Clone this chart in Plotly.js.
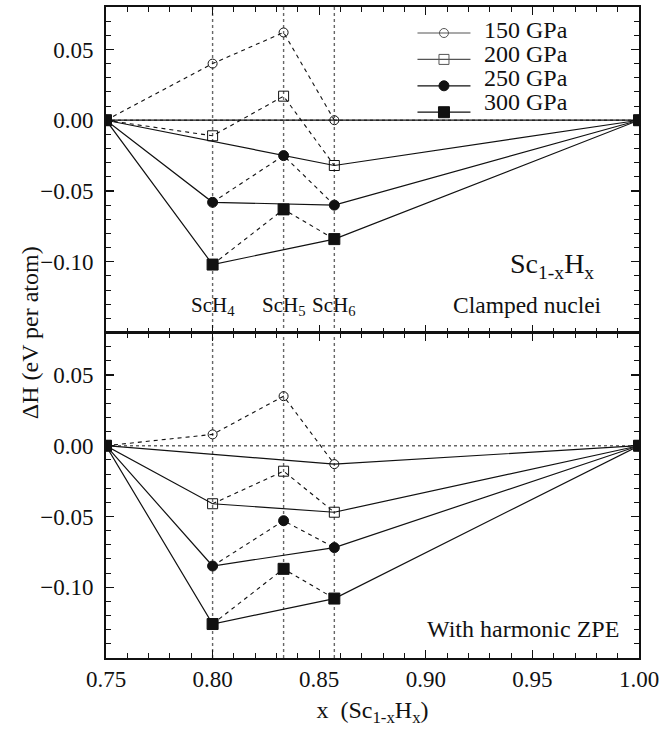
<!DOCTYPE html>
<html>
<head>
<meta charset="utf-8">
<script src="https://cdn.plot.ly/plotly-3.0.1.min.js"></script>
<style>
html,body{margin:0;padding:0;background:#fff;}
#chart{width:660px;height:735px;}
</style>
</head>
<body>
<div id="chart"></div>
<script>
// Composition x of Sc(1-x)H(x): ScH3, ScH4, ScH5, ScH6, H
const xVals = [0.75, 0.80, 0.8333, 0.8571, 1.00];
const phaseLabels = ['ScH<sub>4</sub>', 'ScH<sub>5</sub>', 'ScH<sub>6</sub>'];
const pressures = ['150 GPa', '200 GPa', '250 GPa', '300 GPa'];
const yTicks = [-0.10, -0.05, 0.00, 0.05];

// Clamped nuclei (top panel), eV per atom
const clamped150 = [0, 0.040, 0.062, 0.000, 0];
const clamped200 = [0, -0.011, 0.017, -0.032, 0];
const clamped250 = [0, -0.058, -0.025, -0.060, 0];
const clamped300 = [0, -0.102, -0.063, -0.084, 0];

// With harmonic ZPE (bottom panel), eV per atom
const zpe150 = [0, 0.008, 0.035, -0.013, 0];
const zpe200 = [0, -0.041, -0.018, -0.047, 0];
const zpe250 = [0, -0.085, -0.053, -0.072, 0];
const zpe300 = [0, -0.126, -0.087, -0.108, 0];

// Which points are joined by the solid hull and by the dashed lines
const clampedHull = [[0,3,4],[0,3,4],[0,1,3,4],[0,1,3,4]];
const clampedDash = [[0,1,2,3],[0,1,2,3],[1,2,3],[1,2,3]];
const zpeHull = [[0,3,4],[0,1,3,4],[0,1,3,4],[0,1,3,4]];
const zpeDash = [[0,1,2,3],[1,2,3],[1,2,3],[1,2,3]];

const symbols = ['circle-open', 'square-open', 'circle', 'square'];
const sizes = [9, 10, 10, 11];

const FONT = 'Liberation Serif';
const panels = [
  {series: [clamped150, clamped200, clamped250, clamped300], hull: clampedHull, dash: clampedDash, xa: 'x2', ya: 'y'},
  {series: [zpe150, zpe200, zpe250, zpe300], hull: zpeHull, dash: zpeDash, xa: 'x', ya: 'y2'}
];

const traces = [];
const pick = (arr, idx) => idx.map(i => arr[i]);
panels.forEach(p => {
  p.series.forEach((s, k) => {
    traces.push({x: pick(xVals, p.dash[k]), y: pick(s, p.dash[k]), xaxis: p.xa, yaxis: p.ya,
      mode: 'lines', line: {color: '#111', width: 1.1, dash: '4px,4px'}, showlegend: false, hoverinfo: 'skip'});
  });
  p.series.forEach((s, k) => {
    traces.push({x: pick(xVals, p.hull[k]), y: pick(s, p.hull[k]), xaxis: p.xa, yaxis: p.ya,
      mode: 'lines', line: {color: '#111', width: 1.2}, showlegend: false, hoverinfo: 'skip'});
  });
  p.series.forEach((s, k) => {
    traces.push({x: xVals, y: s, xaxis: p.xa, yaxis: p.ya, mode: 'markers', showlegend: false,
      marker: {symbol: symbols[k], size: sizes[k], color: '#111', line: {color: '#111', width: 1}}});
  });
});
// legend symbols (names drawn as annotations beside them)
pressures.forEach((name, k) => {
  const c = k < 2 ? '#555' : '#111';
  traces.push({x: [null], y: [null], xaxis: 'x2', yaxis: 'y', name: '\u00a0', mode: 'lines+markers',
    line: {color: c, width: 1.2},
    marker: {symbol: symbols[k], size: sizes[k], color: c, line: {color: c, width: 1}}});
});

const xBase = {
  range: [0.75, 1.0], dtick: 0.05, tick0: 0.75, tickformat: '.2f', ticks: 'inside', ticklen: 8, tickwidth: 1.2,
  tickcolor: '#111', showline: true, linecolor: '#111', linewidth: 1.8, mirror: 'allticks', showgrid: false, zeroline: false,
  minor: {dtick: 0.01, ticks: 'inside', ticklen: 5, tickwidth: 1, tickcolor: '#111'},
  tickfont: {family: FONT, size: 23, color: '#111'}
};
const yBase = {
  range: [-0.15, 0.08], tickmode: 'array', tickvals: yTicks, tickformat: '.2f', ticks: 'inside', ticklen: 8, tickwidth: 1.2,
  tickcolor: '#111', showline: true, linecolor: '#111', linewidth: 1.8, mirror: 'allticks', showgrid: false, zeroline: false,
  minor: {dtick: 0.01, tick0: 0, ticks: 'inside', ticklen: 5, tickwidth: 1, tickcolor: '#111'},
  tickfont: {family: FONT, size: 23, color: '#111'}, ticklabelstandoff: 6
};

const shapes = [];
['y', 'y2'].forEach(ya => {
  shapes.push({type: 'line', xref: 'paper', x0: 0, x1: 1, yref: ya, y0: 0, y1: 0,
    line: {color: '#666', width: 1.6, dash: 'dot'}, layer: 'below'});
});
xVals.slice(1, 4).forEach(xv => {
  shapes.push({type: 'line', xref: 'x', x0: xv, x1: xv, yref: 'paper', y0: 0, y1: 1,
    line: {color: '#666', width: 1.4, dash: 'dot'}, layer: 'below'});
});

const annotations = [];
xVals.slice(1, 4).forEach((xv, i) => {
  annotations.push({x: xv, y: -0.131, xref: 'x2', yref: 'y', text: phaseLabels[i], showarrow: false,
    font: {family: FONT, size: 21, color: '#111'}, xanchor: 'center', yanchor: 'middle'});
});
const legendRowY = [0.9647, 0.9278, 0.8909, 0.8541];
pressures.forEach((name, k) => {
  annotations.push({x: 0.705, y: legendRowY[k], xref: 'paper', yref: 'paper', text: name, showarrow: false,
    font: {family: FONT, size: 24, color: '#111'}, xanchor: 'left', yanchor: 'middle'});
});
annotations.push({x: 0.836, y: 0.603, xref: 'paper', yref: 'paper', text: 'Sc<sub>1-x</sub>H<sub>x</sub>', showarrow: false,
  font: {family: FONT, size: 28, color: '#111'}, xanchor: 'center', yanchor: 'middle'});
annotations.push({x: 0.935, y: 0.543, xref: 'paper', yref: 'paper', text: 'Clamped nuclei', showarrow: false,
  font: {family: FONT, size: 23.5, color: '#111'}, xanchor: 'right', yanchor: 'middle'});
annotations.push({x: 0.966, y: 0.045, xref: 'paper', yref: 'paper', text: 'With harmonic ZPE', showarrow: false,
  font: {family: FONT, size: 24, color: '#111'}, xanchor: 'right', yanchor: 'middle'});
annotations.push({x: -0.143, y: 0.5, xref: 'paper', yref: 'paper', text: 'ΔH (eV per atom)', showarrow: false,
  textangle: -90, font: {family: FONT, size: 24, color: '#111'}, xanchor: 'center', yanchor: 'middle'});

const layout = {
  width: 660, height: 735,
  margin: {l: 106, r: 21, t: 7, b: 77},
  paper_bgcolor: '#fff', plot_bgcolor: '#fff',
  font: {family: FONT, color: '#111'},
  showlegend: true,
  legend: {x: 0.575, y: 0.988, xanchor: 'left', yanchor: 'top', bgcolor: 'rgba(0,0,0,0)',
    font: {family: FONT, size: 18, color: '#111'}, tracegroupgap: 0, itemwidth: 53},
  xaxis: Object.assign({}, xBase, {domain: [0, 1], anchor: 'y2',
    title: {text: 'x\u00a0\u00a0(Sc<sub>1-x</sub>H<sub>x</sub>)', font: {family: FONT, size: 24, color: '#111'}, standoff: 10}}),
  xaxis2: Object.assign({}, xBase, {domain: [0, 1], anchor: 'y', matches: 'x', showticklabels: false}),
  yaxis: Object.assign({}, yBase, {domain: [0.5, 1], anchor: 'x2'}),
  yaxis2: Object.assign({}, yBase, {domain: [0, 0.5], anchor: 'x'}),
  shapes: shapes,
  annotations: annotations
};

Plotly.newPlot('chart', traces, layout, {displayModeBar: false, staticPlot: true});
</script>
</body>
</html>
